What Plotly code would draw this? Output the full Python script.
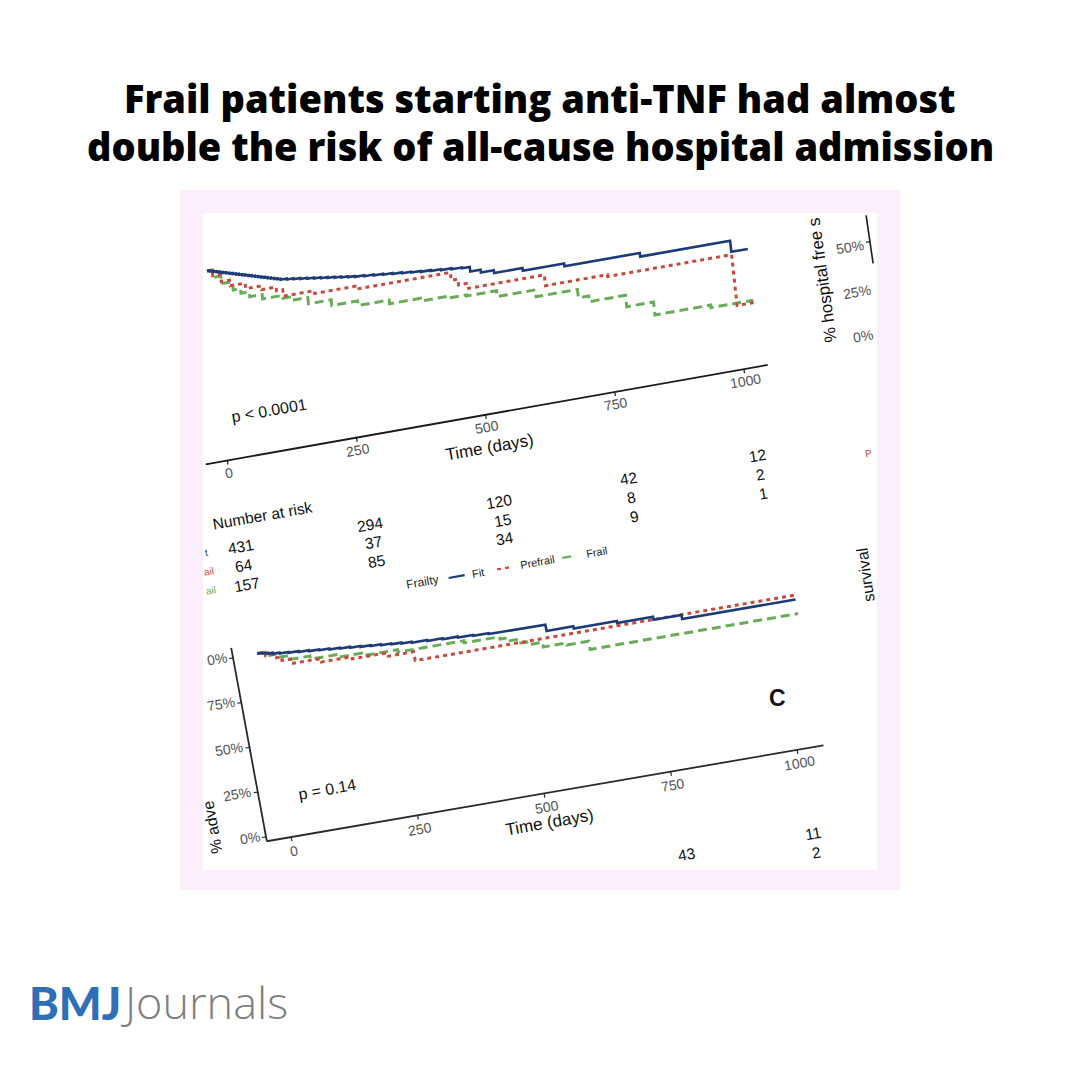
import plotly.graph_objects as go

# ---------------- DATA ----------------
# Panel A: % hospital-free survival by frailty (time in days)
a_fit_t = [0, 6, 12, 18, 24, 30, 36, 42, 48, 54, 60, 66, 72, 78, 84, 90, 96, 102, 108, 114, 120, 126, 132, 138,
           150, 163, 176, 189, 202, 215, 228, 241, 254, 267, 280,
           298, 316, 334, 352, 370, 388, 406, 425, 445, 465, 485,
           500, 520, 545, 600, 680, 826, 1000]
a_fit_s = [100, 99.5, 99, 98.5, 98, 97.5, 97, 96.5, 96, 95.5, 95, 94.5, 94, 93.5, 93, 92.5, 92, 91.5, 91, 90.5, 90, 89.5, 89, 88.5,
           88, 87.5, 87, 86.5, 86, 85.5, 85, 84.5, 84, 83.5, 83,
           82.5, 82, 81.5, 81, 80.5, 80, 79.5, 79, 78.5, 78, 77.5,
           75, 73.5, 72, 70.5, 69, 67, 61]
a_pre_t = [0, 10, 25, 41, 70, 100, 128, 140, 200, 278, 462, 475, 490, 640, 760, 1000]
a_pre_s = [100, 97, 93, 90, 87, 85, 83, 79.5, 78, 76.4, 72.2, 69, 66.3, 60.5, 59.5, 32]
a_frail_t = [0, 10, 25, 46, 60, 76, 100, 139, 160, 186, 230, 280, 340, 400, 450, 488, 546, 620, 700, 720, 790, 842, 950]
a_frail_s = [100, 96, 92, 87.5, 85, 82.4, 80, 78.4, 76.5, 73.1, 70, 67.5, 65.5, 64, 63, 62.4, 59.2, 55.5, 51, 47.9, 41.7, 34.7, 33.3]
a_end = 1032

# Panel C: % adverse-event-free survival by frailty
c_fit_t = [0, 10, 20, 30, 43, 60, 80, 100, 120, 140, 160, 180, 200, 220, 240, 260, 280, 300,
           330, 360, 390, 420, 450, 485, 562, 615, 700, 771, 826]
c_fit_s = [100, 99.5, 99, 98.5, 98, 97.5, 97, 96.5, 96, 95.5, 95, 94.5, 94, 93.5, 93, 92.5, 92, 91.5,
           91, 90.5, 90, 89.5, 89, 88.8, 85.3, 84.1, 83, 81.3, 79.1]
c_pre_t = [0, 15, 30, 45, 66, 120, 180, 250, 300]
c_pre_s = [100, 98, 96, 94, 91.4, 89.5, 88.3, 86.4, 81.5]
c_frail_t = [0, 20, 40, 60, 100, 150, 200, 270, 400, 470, 480, 505, 520, 550, 596, 639]
c_frail_s = [100, 98, 96, 93.8, 92, 90.5, 89, 87.7, 86.5, 85.2, 83.4, 81.1, 79.5, 76.9, 75.8, 71.2]
c_end = 1050

x_ticks = [0, 250, 500, 750, 1000]
y_ticks = [0, 25, 50, 75, 100]
y_tick_labels_c = ["0%", "25%", "50%", "75%", "0%"]   # top label is cropped ("100%")

groups = ["Fit", "Prefrail", "Frail"]
risk_a = {"Fit": [431, 294, 120, 42, 12], "Prefrail": [64, 37, 15, 8, 2], "Frail": [157, 85, 34, 9, 1]}
risk_c = {"Fit": [None, None, None, 43, 11], "Prefrail": [None, None, None, None, 2], "Frail": [None, None, None, None, 3]}
row_stub = ["t", "ail", "ail"]  # cropped row names

pval_a = "p < 0.0001"
pval_c = "p = 0.14"

# panel B (neighbouring, cropped) y ticks
b_ticks = [0, 25, 50]
b_tick_labels = ["0%", "25%", "50%"]

# ---------------- STYLE ----------------
COL = {"Fit": "#1c3b78", "Prefrail": "#c84a3c", "Frail": "#6aad58"}
DASH = {"Fit": "solid", "Prefrail": "4px,4px", "Frail": "9px,5px"}
WID = {"Fit": 2.6, "Prefrail": 3.0, "Frail": 3.0}
FONT = "Liberation Sans, Arial, sans-serif"

W = H = 1080
IMG = (203, 877, 213, 870)  # photo area in page pixels


# photographed (tilted) chart geometry: data -> page pixel
def pa(t, s):
    return 227 + 0.5165 * t - 0.2 * s, 456 - 0.0913 * t - 1.85 * s


def pc(t, s):
    return 290.3 + 0.506 * t - 0.33 * s, 832.6 - 0.0872 * t - 1.79 * s


def pb(s):
    return 883 - 0.26 * s, 331 - 1.78 * s


def km(ts, ss, t_end, f):
    xs, ys = [], []
    for i, (t, s) in enumerate(zip(ts, ss)):
        if i > 0:
            x, y = f(t, ss[i - 1]); xs.append(x); ys.append(y)
        x, y = f(t, s); xs.append(x); ys.append(y)
    x, y = f(t_end, ss[-1]); xs.append(x); ys.append(y)
    return xs, ys


fig = go.Figure()


def seg(p1, p2, color="#222", width=1.6, dash="solid"):
    fig.add_trace(go.Scatter(x=[p1[0], p2[0]], y=[p1[1], p2[1]], mode="lines",
                             line=dict(color=color, width=width, dash=dash),
                             hoverinfo="skip", showlegend=False))


annots = []


def txt(p, text, size=15, color="#111", angle=-10, bold=False, family=FONT):
    annots.append(dict(x=p[0], y=p[1], xref="x", yref="y",
                       text=f"<b>{text}</b>" if bold else text, showarrow=False,
                       textangle=angle, font=dict(family=family, size=size, color=color),
                       xanchor="center", yanchor="middle"))


# ---- Panel A curves ----
for g, tt, ss in [("Fit", a_fit_t, a_fit_s), ("Prefrail", a_pre_t, a_pre_s), ("Frail", a_frail_t, a_frail_s)][::-1]:
    xs, ys = km(tt, ss, a_end, pa)
    fig.add_trace(go.Scatter(x=xs, y=ys, mode="lines", line=dict(color=COL[g], width=WID[g], dash=DASH[g]),
                             hoverinfo="skip", showlegend=False))
# x axis A
seg(pa(-42, -2.4), pa(1046, -2.4), "#1a1a1a", 1.8)
for t in x_ticks:
    seg(pa(t, -2.4), pa(t, -4.6), "#1a1a1a", 1.2)
    txt(pa(t, -9), str(t), 14, "#555")
txt(pa(500, -20), "Time (days)", 17, "#111")
txt(pa(90, 20), pval_a, 16, "#111")
# risk table A
txt(pa(56, -35), "Number at risk", 15.5, "#111")
for r, g in enumerate(groups):
    for t, v in zip(x_ticks, risk_a[g]):
        if v is not None:
            txt(pa(t + 8 + 1.7 * r, -49.5 - 10.3 * r), str(v), 15.5, "#111")
    txt(pa(-58, -49.5 - 10.3 * r), row_stub[r], 10, COL[g])
# legend A
txt(pa(345, -85), "Frailty", 12, "#222")
lg = [("Fit", 396, 427, 452), ("Prefrail", 490, 515, 568), ("Frail", 616, 637, 683)]
for g, t0, t1, tl in lg:
    seg(pa(t0, -85.5), pa(t1, -85.5), COL[g], 2.2, DASH[g])
    txt(pa(tl, -85.5), g, 11, "#222")

# ---- Panel B fragment (top right) ----
seg(pb(65), pb(38), "#1a1a1a", 1.6)
seg(pb(50), (pb(50)[0] - 4, pb(50)[1]), "#1a1a1a", 1.2)
for s, lab in zip(b_ticks, b_tick_labels):
    p = pb(s)
    txt((p[0] - 20, p[1] + 5), lab, 14, "#555", -10)
p = pb(29)
txt((p[0] - 53, p[1]), "% hospital free s", 17, "#111", -98)
txt((868, 453), "P", 10, COL["Prefrail"], -10)
txt((865, 575), "survival", 16, "#111", -98)

# ---- Panel C curves ----
for g, tt, ss in [("Fit", c_fit_t, c_fit_s), ("Prefrail", c_pre_t, c_pre_s), ("Frail", c_frail_t, c_frail_s)][::-1]:
    xs, ys = km(tt, ss, c_end, pc)
    fig.add_trace(go.Scatter(x=xs, y=ys, mode="lines", line=dict(color=COL[g], width=WID[g], dash=DASH[g]),
                             hoverinfo="skip", showlegend=False))
seg(pc(-48, -2.5), pc(1052, -2.5), "#2a2a2a", 1.8)
seg(pc(-48, -2.5), pc(-48, 105.5), "#2a2a2a", 1.8)
for t in x_ticks:
    seg(pc(t, -2.5), pc(t, -4.8), "#2a2a2a", 1.2)
    txt(pc(t, -10), str(t), 14, "#555")
for s, lab in zip(y_ticks, y_tick_labels_c):
    seg(pc(-48, s), pc(-56, s), "#2a2a2a", 1.2)
    p = pc(-48, s)
    txt((p[0] - 8 - 4.2 * len(lab), p[1] + 1.5), lab, 14, "#555")
txt((212, 828), "% adve", 16, "#111", -100)
txt(pc(500, -18.5), "Time (days)", 17, "#111")
txt(pc(85, 20), pval_c, 16, "#111")
txt(pc(980, 27.5), "C", 23, "#111", 0, bold=True)
for r, g in enumerate(groups):
    for t, v in zip(x_ticks, risk_c[g]):
        if v is not None:
            txt(pc(t + 0.5, -49 - 11 * r), str(v), 15.5, "#111")


# ---- page furniture ----
def px(x): return x / W
def py(y): return 1 - y / H


shapes = [
    dict(type="rect", xref="paper", yref="paper", x0=px(180), x1=px(900), y0=py(890), y1=py(190),
         fillcolor="#faeffa", line=dict(width=0), layer="below"),
    dict(type="rect", xref="paper", yref="paper", x0=px(IMG[0]), x1=px(IMG[1]), y0=py(IMG[3]), y1=py(IMG[2]),
         fillcolor="#ffffff", line=dict(width=0), layer="below"),
]

title_lines = ["Frail patients starting anti-TNF had almost", "double the risk of all-cause hospital admission"]
for i, line in enumerate(title_lines):
    annots.append(dict(x=0.5, y=py(98 + 48 * i), xref="paper", yref="paper", text=line, showarrow=False,
                       font=dict(family="Open Sans", size=38, color="#000000", weight=800),
                       xanchor="center", yanchor="middle"))
annots.append(dict(x=px(27), y=py(1003), xref="paper", yref="paper", text="BMJ", showarrow=False,
                   font=dict(family="Lato", size=45, color="#2f6fb8", weight=900), xanchor="left", yanchor="middle"))
annots.append(dict(x=px(118), y=py(1001), xref="paper", yref="paper", text="Journals", showarrow=False,
                   font=dict(family="Open Sans", size=45, color="#7f7f7f", weight=300), xanchor="left", yanchor="middle"))

fig.update_layout(
    width=W, height=H, margin=dict(l=0, r=0, t=0, b=0),
    paper_bgcolor="#ffffff", plot_bgcolor="rgba(0,0,0,0)",
    xaxis=dict(domain=[px(IMG[0]), px(IMG[1])], range=[IMG[0], IMG[1]], visible=False, fixedrange=True),
    yaxis=dict(domain=[py(IMG[3]), py(IMG[2])], range=[IMG[3], IMG[2]], visible=False, fixedrange=True),
    shapes=shapes, annotations=annots, showlegend=False,
)

fig.write_html("out.html", config={"displayModeBar": False},
               post_script="document.body.style.margin='0';")
